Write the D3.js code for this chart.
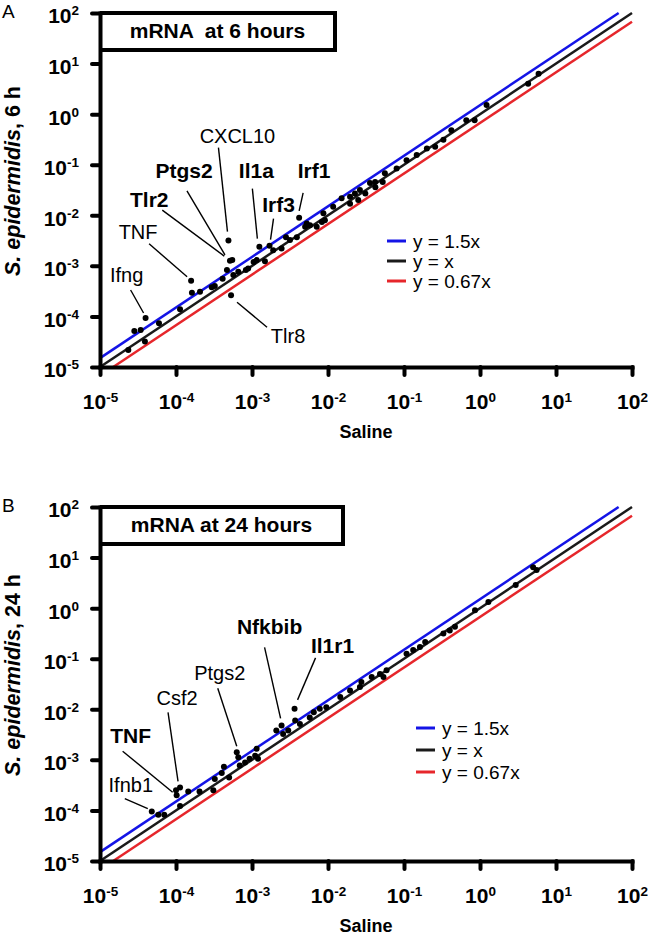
<!DOCTYPE html>
<html><head><meta charset="utf-8">
<script src="https://cdn.jsdelivr.net/npm/d3@7"></script>
<style>
body{margin:0;background:#fff}
svg{display:block}
text{font-family:"Liberation Sans",Arial,Helvetica,sans-serif;fill:#000}
</style>
</head><body>
<svg id="chart" width="648" height="937"></svg>
<script>
// ---------- data ----------
const tickValues = [1e-5, 1e-4, 1e-3, 1e-2, 1e-1, 1, 1e1, 1e2];
const tickExponents = ["-5", "-4", "-3", "-2", "-1", "0", "1", "2"];

const refNames  = ["y = 1.5x", "y = x", "y = 0.67x"];
const refSlopes = [1.5, 1, 0.67];
const refColors = ["#1414e6", "#1a1a1a", "#e6262b"];

// Panel A: mRNA at 6 hours (x = Saline, y = S. epidermidis)
const salineA = [2.36e-5, 2.83e-5, 3.43e-5, 3.98e-5, 3.9e-5, 5.97e-5, 1.13e-4, 1.58e-4, 1.62e-4, 2.07e-4,
  2.95e-4, 3.24e-4, 4.11e-4, 4.68e-4, 4.9e-4, 5.13e-4, 5.5e-4, 5.3e-4, 5.68e-4, 6.6e-4,
  8.3e-4, 8.9e-4, 1.05e-3, 1.15e-3, 1.25e-3, 1.48e-3, 1.70e-3, 1.9e-3, 2.45e-3, 2.8e-3,
  3.16e-3, 3.89e-3, 4.17e-3, 5.0e-3, 5.8e-3, 7.1e-3, 8.3e-3, 9.1e-3, 5.25e-3, 8.7e-3,
  1.17e-2, 1.51e-2, 1.95e-2, 2.5e-2, 3.1e-2, 4.2e-2, 1.95e-2, 2.26e-2, 2.63e-2, 3.57e-2,
  4.17e-2, 5.25e-2, 5.6e-2, 8.0e-2, 0.108, 0.147, 0.20, 0.257, 0.33, 0.42,
  0.66, 0.85, 1.22, 4.3, 5.9];
const sepiA = [2.17e-5, 5.14e-5, 5.37e-5, 9.3e-5, 3.2e-5, 7.3e-5, 1.38e-4, 5.07e-4, 2.95e-4, 3.09e-4,
  3.76e-4, 3.98e-4, 5.56e-4, 8.3e-4, 3.16e-3, 1.26e-3, 1.30e-3, 2.63e-4, 6.6e-4, 7.64e-4,
  8.3e-4, 8.9e-4, 1.19e-3, 1.30e-3, 2.4e-3, 1.24e-3, 2.51e-3, 2.04e-3, 2.21e-3, 3.66e-3,
  3.24e-3, 3.66e-3, 8.9e-3, 5.9e-3, 6.37e-3, 5.9e-3, 7.4e-3, 8.0e-3, 6.9e-3, 1.10e-2,
  1.48e-2, 2.16e-2, 1.70e-2, 2.0e-2, 2.7e-2, 3.6e-2, 2.32e-2, 2.7e-2, 3.16e-2, 4.37e-2,
  4.57e-2, 4.57e-2, 6.8e-2, 8.4e-2, 0.123, 0.155, 0.21, 0.226, 0.31, 0.48,
  0.76, 0.76, 1.51, 3.98, 6.3];

const genesA      = ["CXCL10", "Ptgs2", "Tlr2", "Il1a", "Irf1", "Irf3", "TNF", "Ifng", "Tlr8"];
const geneBoldA   = [false, true, true, true, true, true, false, false, false];
const geneSalineA = [4.9e-4, 5.13e-4, 5.5e-4, 1.25e-3, 4.17e-3, 1.70e-3, 1.58e-4, 3.98e-5, 5.3e-4];
const geneSepiA   = [3.16e-3, 1.26e-3, 1.30e-3, 2.4e-3, 8.9e-3, 2.51e-3, 5.07e-4, 9.3e-5, 2.63e-4];

// Panel B: mRNA at 24 hours
const salineB = [4.8e-5, 5.85e-5, 7.0e-5, 1.13e-4, 1.02e-4, 1.13e-4, 1.0e-4, 1.45e-4, 2.04e-4, 3.1e-4,
  3.24e-4, 4.0e-4, 4.27e-4, 5.0e-4, 6.3e-4, 6.6e-4, 6.9e-4, 8.1e-4, 9.3e-4, 1.10e-3,
  1.15e-3, 1.20e-3, 2.09e-3, 2.45e-3, 2.57e-3, 3.0e-3, 3.63e-3, 3.7e-3, 4.27e-3, 5.75e-3,
  7.8e-3, 9.5e-3, 6.5e-3, 1.45e-2, 1.95e-2, 2.63e-2, 2.75e-2, 3.76e-2, 4.83e-2, 5.37e-2,
  5.9e-2, 0.108, 0.132, 0.162, 0.19, 0.33, 0.40, 0.468, 0.86, 1.29,
  2.95, 5.0, 5.56];
const sepiB = [9.5e-5, 8.2e-5, 8.2e-5, 1.23e-4, 2.0e-4, 2.85e-4, 2.5e-4, 2.37e-4, 2.37e-4, 2.5e-4,
  4.17e-4, 5.5e-4, 7.3e-4, 4.47e-4, 1.41e-3, 1.12e-3, 7.7e-4, 8.9e-4, 1.05e-3, 1.20e-3,
  1.66e-3, 1.05e-3, 3.8e-3, 4.8e-3, 3.24e-3, 3.8e-3, 1.02e-2, 6.0e-3, 5.1e-3, 6.9e-3,
  1.02e-2, 1.10e-2, 8.7e-3, 1.74e-2, 2.34e-2, 2.75e-2, 3.47e-2, 4.37e-2, 5.0e-2, 4.37e-2,
  5.9e-2, 0.126, 0.148, 0.17, 0.214, 0.316, 0.363, 0.427, 0.91, 1.33,
  2.86, 6.46, 5.68];

const genesB      = ["Nfkbib", "Il1r1", "Ptgs2", "Csf2", "TNF", "Ifnb1"];
const geneBoldB   = [true, true, false, false, true, false];
const geneSalineB = [2.45e-3, 3.63e-3, 6.3e-4, 1.13e-4, 1.02e-4, 4.8e-5];
const geneSepiB   = [4.8e-3, 1.02e-2, 1.41e-3, 2.85e-4, 2.0e-4, 9.5e-5];

// ---------- layout ----------
// label offsets relative to the labelled point: [textX, textBaseline, lineStartX, lineStartY, lineEndX, lineEndY]
const labelLayoutA = {
  "CXCL10": [9, -98, -10, -93, -1, -9],
  "Ptgs2":  [-46, -83, -43, -70, -5, -6],
  "Tlr2":   [-83, -53, -70, -50, -8, -4],
  "Il1a":   [-3, -69, -7, -58, -2, -8],
  "Irf1":   [15, -40, 4, -25, 0, -7],
  "Irf3":   [9, -34, 4, -27, 1, -6],
  "TNF":    [-53, -42, -42, -37, -4, -4],
  "Ifng":   [-19, -36, -15, -28, -2, -5],
  "Tlr8":   [57, 48, 6, 7, 36, 32]
};
const labelLayoutB = {
  "Nfkbib": [-12, -91, -17, -78, -1, -7],
  "Il1r1":  [38, -56, 21, -51, 3, -9],
  "Ptgs2":  [-17, -72, -19, -64, 0, -6],
  "Csf2":   [-3, -82, -12, -75, -2, -6],
  "TNF":    [-46, -52, -54, -44, -4, -3],
  "Ifnb1":  [-21, -20, -27, -13, -4, -3]
};

const panels = [
  {letter: "A", off: 0, title: "mRNA  at 6 hours", boxRight: 335, yLabelTail: ", 6 h",
   saline: salineA, sepi: sepiA, genes: genesA, bold: geneBoldA, gx: geneSalineA, gy: geneSepiA,
   layout: labelLayoutA, legX: 387, legY: [241, 261, 281]},
  {letter: "B", off: 494, title: "mRNA at 24 hours", boxRight: 343, yLabelTail: ", 24 h",
   saline: salineB, sepi: sepiB, genes: genesB, bold: geneBoldB, gx: geneSalineB, gy: geneSepiB,
   layout: labelLayoutB, legX: 416, legY: [728, 750, 772]}
];

const svg = d3.select("#chart");
const X0 = 100, X1 = 632, YT = 13, YB = 367;

function superscriptLabels(sel, supDy) {
  sel.each(function(d, i) {
    const t = d3.select(this);
    const k = tickValues.indexOf(d);
    t.text(null);
    t.append("tspan").text("10");
    t.append("tspan").attr("dy", -supDy).attr("font-size", 13.5).text(tickExponents[k]);
  });
}

panels.forEach(p => {
  const g = svg.append("g");
  const x = d3.scaleLog().domain([1e-5, 1e2]).range([X0, X1]);
  const y = d3.scaleLog().domain([1e-5, 1e2]).range([YB + p.off, YT + p.off]);

  // reference lines
  refSlopes.forEach((k, i) => {
    const xs = Math.max(1e-5, 1e-5 / k), xe = Math.min(1e2, 1e2 / k);
    g.append("path")
      .attr("d", d3.line().x(d => x(d[0])).y(d => y(d[1]))([[xs, xs * k], [xe, xe * k]]))
      .attr("stroke", refColors[i]).attr("stroke-width", 2.5).attr("fill", "none");
  });

  // points
  g.append("g").selectAll("circle").data(p.saline.map((v, i) => [v, p.sepi[i]]))
    .join("circle").attr("cx", d => x(d[0])).attr("cy", d => y(d[1])).attr("r", 3).attr("fill", "#000");

  // axes
  const xa = g.append("g").attr("transform", `translate(0,${YB + p.off})`)
    .call(d3.axisBottom(x).tickValues(tickValues).tickSize(8).tickSizeOuter(0).tickPadding(19));
  const ya = g.append("g").attr("transform", `translate(${X0},0)`)
    .call(d3.axisLeft(y).tickValues(tickValues).tickSize(8).tickSizeOuter(0).tickPadding(13));
  [xa, ya].forEach(a => {
    a.select(".domain").attr("stroke", "#000").attr("stroke-width", 4).attr("stroke-linecap", "square");
    a.selectAll(".tick line").attr("stroke", "#000").attr("stroke-width", 4).attr("stroke-linecap", "round");
    a.selectAll(".tick text").attr("font-size", 21).attr("font-weight", "bold")
      .attr("font-family", "'Liberation Sans',Arial,sans-serif");
  });
  xa.selectAll(".tick text").call(superscriptLabels, 7);
  ya.selectAll(".tick text").attr("dy", "0.47em").call(superscriptLabels, 8);

  // title box
  g.append("path")
    .attr("d", `M${X0},${YT + p.off}H${p.boxRight}V${50 + p.off}H${X0}`)
    .attr("fill", "none").attr("stroke", "#000").attr("stroke-width", 4);
  g.append("text").attr("x", (X0 + p.boxRight) / 2).attr("y", 38 + p.off)
    .attr("text-anchor", "middle").attr("font-size", 21).attr("font-weight", "bold")
    .style("white-space", "pre").text(p.title);

  // panel letter
  g.append("text").attr("x", 2).attr("y", 18 + p.off).attr("font-size", 19).text(p.letter);

  // axis titles
  g.append("text").attr("x", (X0 + X1) / 2).attr("y", 438 + p.off).attr("text-anchor", "middle")
    .attr("font-size", 18).attr("font-weight", "bold").text("Saline");
  const yl = g.append("text").attr("transform", `translate(20,${181 + p.off}) rotate(-90)`)
    .attr("text-anchor", "middle").attr("font-size", 21.5).attr("font-weight", "bold");
  yl.append("tspan").attr("font-style", "italic").text("S. epidermidis");
  yl.append("tspan").text(p.yLabelTail);

  // legend
  refNames.forEach((n, i) => {
    g.append("line").attr("x1", p.legX).attr("x2", p.legX + 19)
      .attr("y1", p.legY[i]).attr("y2", p.legY[i])
      .attr("stroke", refColors[i]).attr("stroke-width", 3);
    g.append("text").attr("x", p.legX + 26).attr("y", p.legY[i] + 7).attr("font-size", 19).text(n);
  });

  // gene labels
  p.genes.forEach((name, i) => {
    const px = x(p.gx[i]), py = y(p.gy[i]);
    const L = p.layout[name];
    g.append("line").attr("x1", px + L[2]).attr("y1", py + L[3]).attr("x2", px + L[4]).attr("y2", py + L[5])
      .attr("stroke", "#000").attr("stroke-width", 1.4);
    g.append("text").attr("x", px + L[0]).attr("y", py + L[1]).attr("text-anchor", "middle")
      .attr("font-size", p.bold[i] ? 21 : 20).attr("font-weight", p.bold[i] ? "bold" : "normal").text(name);
  });
});
</script>
</body></html>
